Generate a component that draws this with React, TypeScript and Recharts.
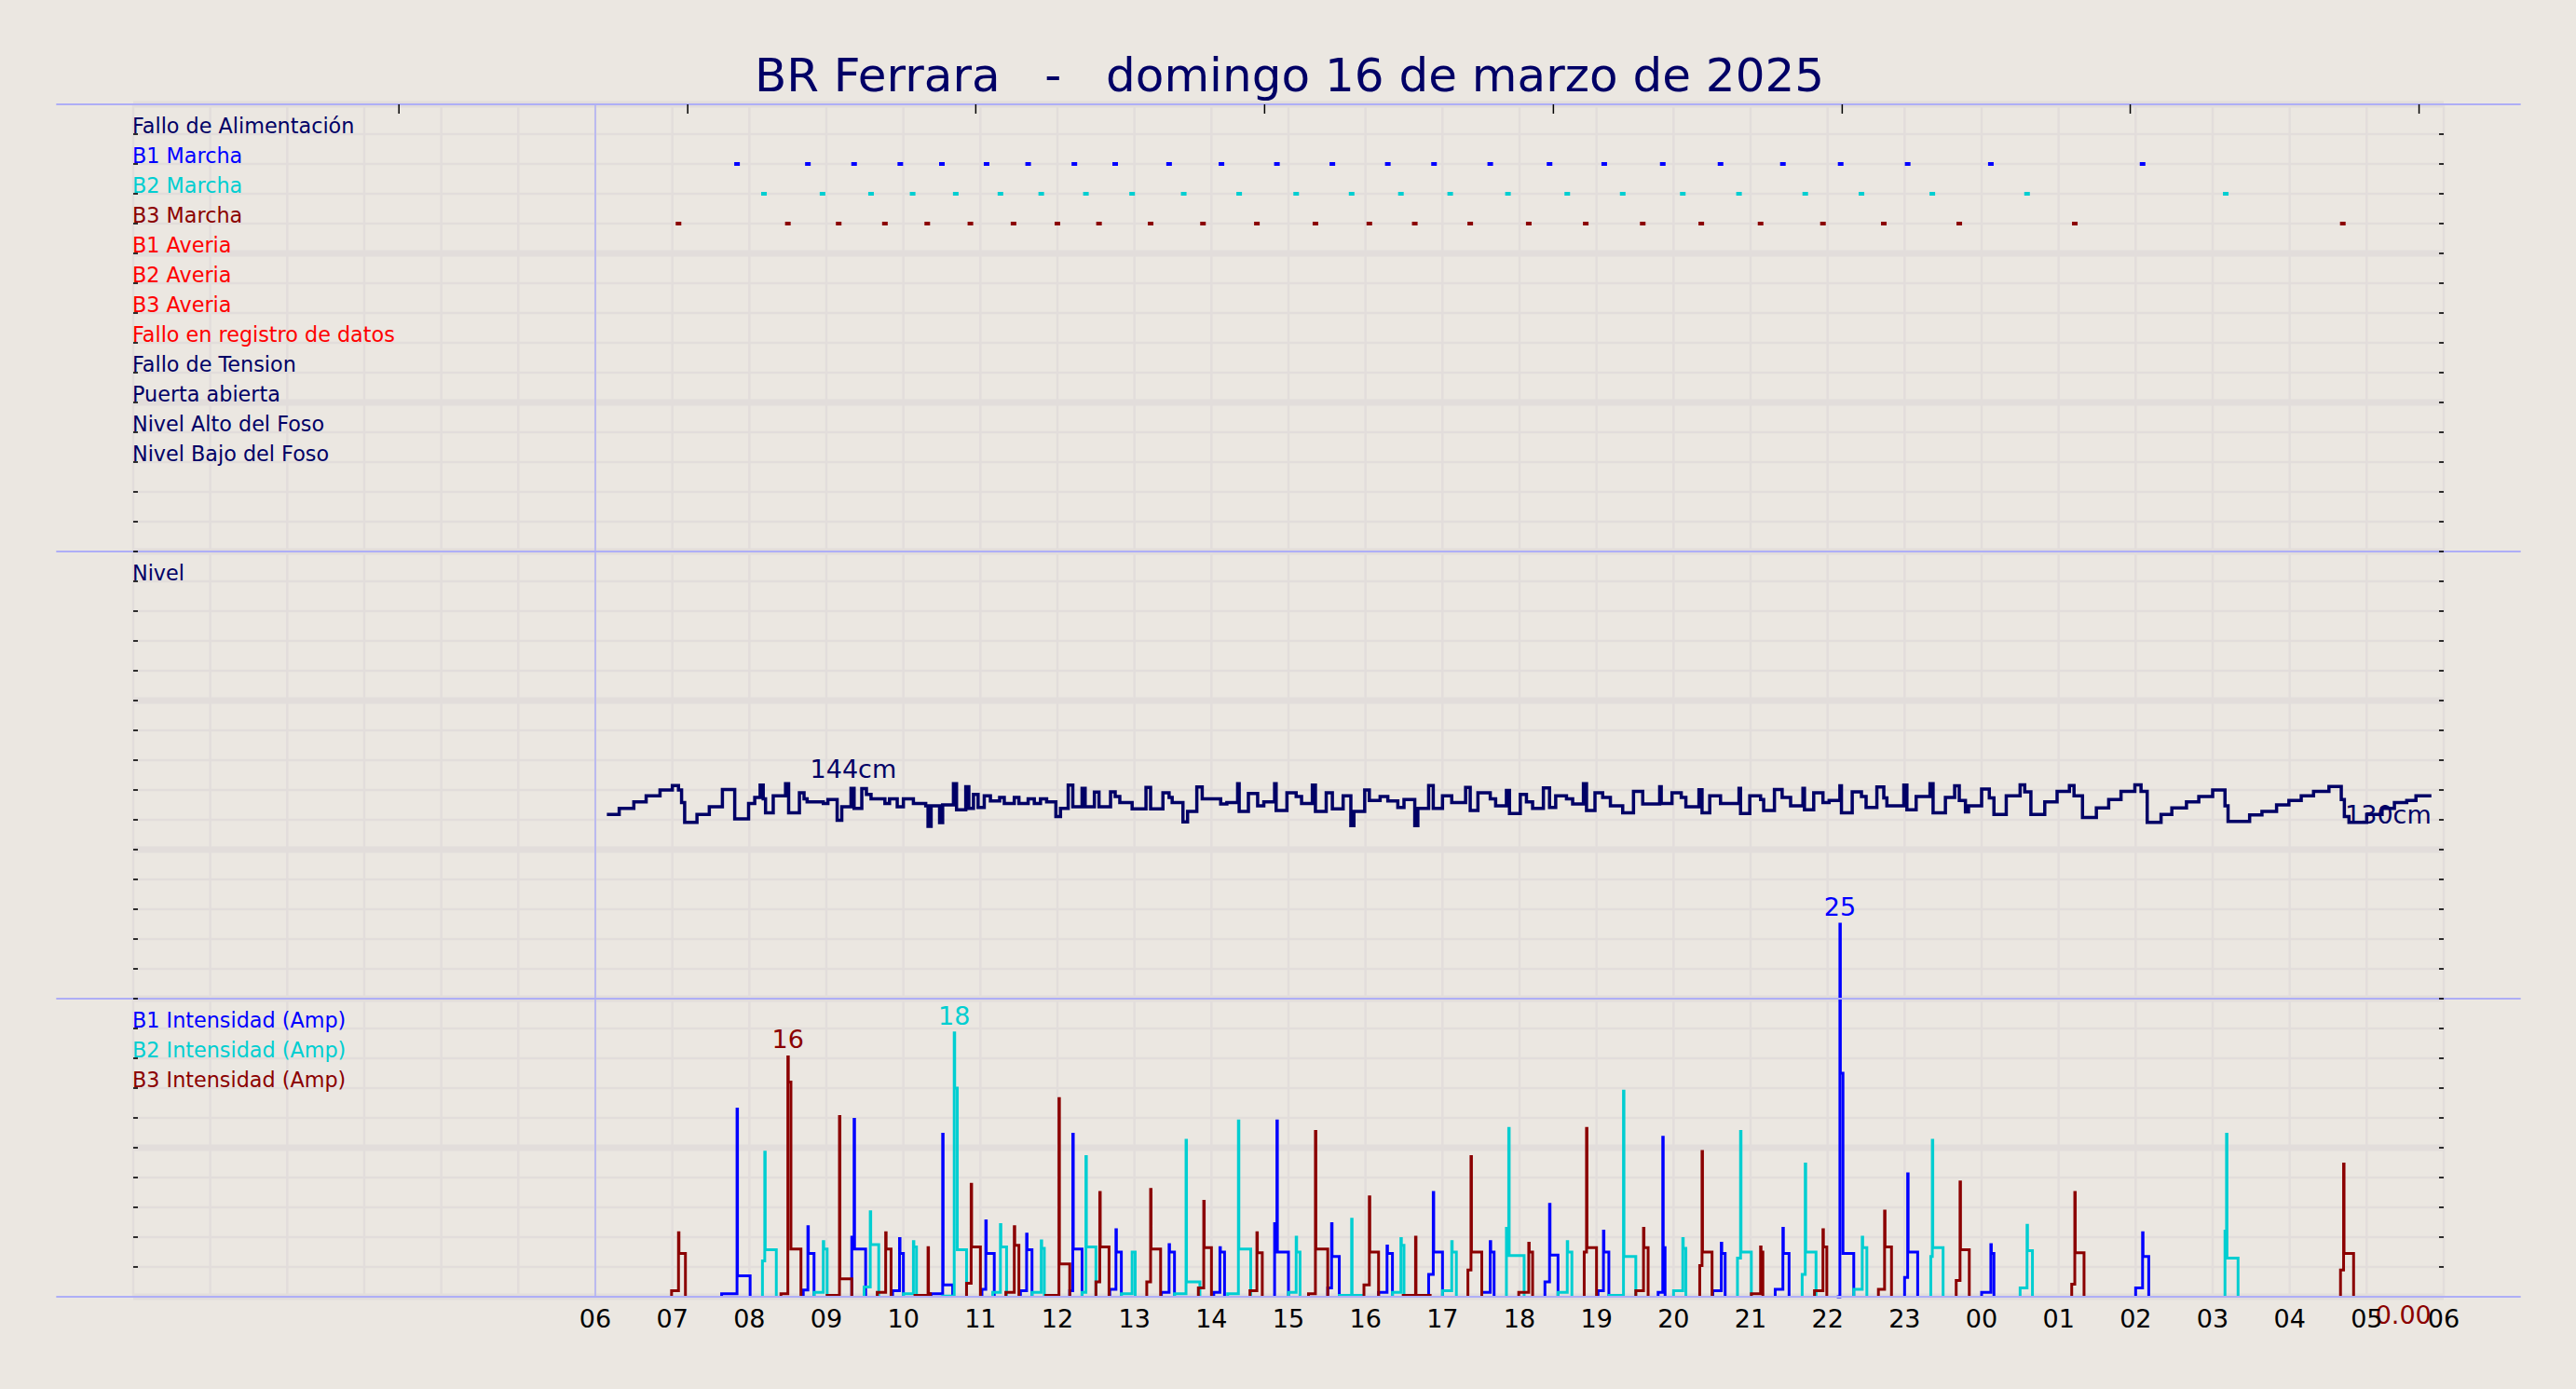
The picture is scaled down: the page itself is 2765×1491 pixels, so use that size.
import React from 'react';
import { ComposedChart, Line, Scatter, XAxis, YAxis, CartesianGrid, ReferenceLine } from 'recharts';

// ---------- texts ----------
const TITLE = 'BR Ferrara   -   domingo 16 de marzo de 2025';
const EVENT_LABELS = [
  'Fallo de Alimentación', 'B1 Marcha', 'B2 Marcha', 'B3 Marcha', 'B1 Averia', 'B2 Averia',
  'B3 Averia', 'Fallo en registro de datos', 'Fallo de Tension', 'Puerta abierta',
  'Nivel Alto del Foso', 'Nivel Bajo del Foso',
];
const LEVEL_LABEL = 'Nivel';
const CURRENT_LABELS = ['B1 Intensidad (Amp)', 'B2 Intensidad (Amp)', 'B3 Intensidad (Amp)'];

// ---------- axes (hours since 00:00 of the day) ----------
const X_TICKS = [6, 7, 8, 9, 10, 11, 12, 13, 14, 15, 16, 17, 18, 19, 20, 21, 22, 23, 24, 25, 26, 27, 28, 29, 30];
const TOP_TICKS = [3.45, 7.2, 10.94, 14.69, 18.44, 22.19, 25.93, 29.68];

// ---------- pump start markers (hours) ----------
const B1_MARCHA = [7.84, 8.76, 9.36, 9.96, 10.5, 11.08, 11.62, 12.22, 12.75, 13.45, 14.13, 14.85, 15.57, 16.29, 16.89, 17.62, 18.39, 19.1, 19.86, 20.61, 21.42, 22.17, 23.04, 24.12, 26.09];
const B2_MARCHA = [8.19, 8.95, 9.58, 10.12, 10.68, 11.26, 11.79, 12.37, 12.97, 13.64, 14.36, 15.1, 15.82, 16.46, 17.1, 17.85, 18.62, 19.34, 20.12, 20.85, 21.71, 22.44, 23.36, 24.59, 27.17];
const B3_MARCHA = [7.08, 8.5, 9.16, 9.76, 10.31, 10.87, 11.43, 12.0, 12.54, 13.21, 13.89, 14.59, 15.35, 16.05, 16.64, 17.36, 18.12, 18.86, 19.6, 20.36, 21.13, 21.94, 22.73, 23.71, 25.21, 28.69];

// ---------- level (hour, cm) ----------
const LEVEL: [number, number][] = [
  [6.15, 133.9], [6.31, 135.9], [6.5, 138.0], [6.66, 140.0], [6.84, 141.9], [7.0, 143.4], [7.08, 141.9], [7.12, 137.8], [7.16, 131.3], [7.32, 133.9],
  [7.48, 136.4], [7.65, 142.1], [7.81, 132.4], [7.99, 137.5], [8.07, 139.5], [8.14, 143.5], [8.18, 139.0], [8.21, 134.4], [8.31, 140.0], [8.47, 144.0],
  [8.51, 134.4], [8.65, 141.0], [8.71, 139.0], [8.75, 138.0], [8.96, 137.5], [9.02, 138.8], [9.14, 132.0], [9.2, 136.4], [9.32, 142.5], [9.36, 135.9],
  [9.46, 142.4], [9.52, 140.5], [9.58, 139.0], [9.76, 137.5], [9.82, 139.0], [9.92, 136.4], [10.0, 139.0], [10.13, 137.5], [10.29, 136.7], [10.32, 130.0],
  [10.36, 136.7], [10.47, 131.2], [10.51, 137.0], [10.65, 144.0], [10.69, 135.4], [10.81, 143.0], [10.85, 135.9], [10.91, 140.5], [10.97, 136.2], [11.05, 140.0],
  [11.13, 138.3], [11.25, 139.5], [11.31, 137.5], [11.44, 139.5], [11.5, 137.5], [11.62, 139.0], [11.7, 137.5], [11.78, 139.0], [11.86, 138.0], [11.98, 133.2],
  [12.04, 135.9], [12.14, 143.5], [12.2, 136.4], [12.32, 142.5], [12.36, 136.4], [12.48, 141.2], [12.54, 136.4], [12.69, 141.3], [12.75, 139.8], [12.81, 137.8],
  [12.97, 135.7], [13.15, 142.8], [13.21, 135.7], [13.37, 141.0], [13.45, 139.5], [13.49, 137.8], [13.63, 131.4], [13.69, 134.9], [13.81, 142.9], [13.88, 139.0],
  [14.12, 137.3], [14.2, 137.8], [14.34, 144.0], [14.36, 134.9], [14.48, 140.8], [14.6, 136.7], [14.68, 138.0], [14.82, 144.0], [14.84, 135.2], [14.98, 141.0],
  [15.1, 139.8], [15.17, 137.5], [15.31, 143.5], [15.35, 134.9], [15.49, 141.0], [15.57, 135.7], [15.71, 140.0], [15.81, 130.2], [15.85, 134.9], [15.99, 141.9],
  [16.05, 138.5], [16.19, 139.8], [16.29, 138.3], [16.42, 136.2], [16.5, 138.8], [16.64, 130.2], [16.68, 135.9], [16.82, 143.4], [16.88, 135.9], [17.0, 140.0],
  [17.12, 137.8], [17.3, 142.8], [17.36, 135.2], [17.46, 141.0], [17.62, 139.0], [17.69, 136.7], [17.83, 141.8], [17.87, 134.2], [18.01, 140.5], [18.09, 138.0],
  [18.17, 135.9], [18.31, 142.6], [18.39, 136.2], [18.47, 140.0], [18.61, 139.0], [18.69, 137.3], [18.83, 144.0], [18.87, 135.2], [18.98, 141.0], [19.08, 139.5],
  [19.18, 136.7], [19.34, 134.4], [19.48, 141.5], [19.6, 137.3], [19.82, 143.0], [19.84, 137.5], [19.98, 141.0], [20.1, 139.5], [20.16, 136.4], [20.33, 142.0],
  [20.37, 134.4], [20.47, 140.0], [20.61, 137.5], [20.85, 142.5], [20.87, 134.2], [20.99, 140.0], [21.13, 138.8], [21.17, 135.2], [21.31, 142.1], [21.41, 139.5],
  [21.52, 136.7], [21.68, 142.5], [21.7, 135.4], [21.82, 141.0], [21.94, 137.8], [22.02, 138.5], [22.16, 143.3], [22.18, 134.4], [22.32, 141.3], [22.44, 139.8],
  [22.5, 136.2], [22.64, 142.9], [22.73, 139.3], [22.77, 136.7], [22.99, 143.5], [23.03, 135.4], [23.15, 139.8], [23.33, 144.0], [23.37, 134.4], [23.53, 139.5],
  [23.65, 143.3], [23.71, 138.5], [23.79, 134.7], [23.83, 136.7], [24.0, 142.2], [24.1, 139.3], [24.16, 133.9], [24.32, 140.0], [24.5, 143.6], [24.56, 141.3],
  [24.64, 133.9], [24.82, 138.0], [24.98, 141.5], [25.14, 143.4], [25.2, 140.0], [25.31, 132.9], [25.49, 136.0], [25.65, 138.8], [25.81, 141.5], [25.99, 143.6],
  [26.07, 141.5], [26.15, 131.3], [26.33, 133.9], [26.47, 136.0], [26.66, 138.0], [26.82, 139.8], [27.0, 141.9], [27.16, 136.7], [27.2, 131.6], [27.48, 133.7],
  [27.64, 134.9], [27.83, 137.0], [27.99, 138.5], [28.15, 140.0], [28.31, 141.5], [28.51, 143.1], [28.67, 138.8], [28.71, 133.2], [28.77, 131.3], [29.0, 133.9],
  [29.2, 135.9], [29.36, 137.8], [29.52, 138.5], [29.64, 140.0], [29.84, 140.0],
];
const LEVEL_MAX_NOTE = [{ h: 9.35, y: 144 }];
const LEVEL_END_NOTE = [{ h: 29.84, y: 130 }];
const B3_END_NOTE = [{ h: 29.84, y: 0 }];

// ---------- pump currents: [pre-start h, pre A, spike h, peak A, 2nd step A, plateau A, end h] ----------
type Run = [number, number, number, number, number, number, number];
const B1_RUNS: Run[] = [
  [7.64, 0.2, 7.84, 12.6, 0, 1.4, 8.01], [8.7, 0.45, 8.76, 4.7, 0, 2.9, 8.84], [9.33, 4.0, 9.36, 11.9, 0, 3.2, 9.51],
  [9.86, 0.4, 9.95, 3.9, 0, 2.9, 10.0], [10.36, 0.2, 10.51, 10.9, 0, 0.8, 10.64], [11.02, 0.5, 11.07, 5.1, 0, 2.9, 11.18],
  [11.52, 0.4, 11.6, 4.2, 0, 3.15, 11.67], [12.16, 0.4, 12.2, 10.9, 0, 3.2, 12.32], [12.68, 0.5, 12.76, 4.5, 0, 3.0, 12.83],
  [13.35, 0.3, 13.45, 3.5, 0, 3.0, 13.52], [14.03, 0.3, 14.11, 3.3, 0, 3.0, 14.17], [14.82, 4.9, 14.85, 11.8, 0, 3.0, 15.0],
  [15.51, 0.6, 15.56, 4.9, 0, 2.7, 15.66], [16.17, 0.3, 16.28, 3.4, 0, 2.9, 16.35], [16.82, 1.5, 16.88, 7.0, 0, 3.0, 17.0],
  [17.51, 0.3, 17.62, 3.7, 0, 3.0, 17.67], [18.33, 1.0, 18.39, 6.2, 0, 2.8, 18.5], [19.02, 0.4, 19.09, 4.4, 0, 3.0, 19.16],
  [19.8, 0.3, 19.86, 10.7, 0, 3.3, 19.89], [20.51, 0.4, 20.62, 3.6, 0, 2.9, 20.67], [21.32, 0.5, 21.42, 4.6, 0, 2.9, 21.5],
  [22.12, 0, 22.16, 25, 15, 2.9, 22.34], [23.0, 1.3, 23.04, 8.25, 0, 3.0, 23.17], [24.0, 0.3, 24.12, 3.5, 0, 2.9, 24.16],
  [26.0, 0.6, 26.09, 4.3, 0, 2.7, 26.17],
];
const B2_RUNS: Run[] = [
  [8.17, 2.4, 8.2, 9.7, 0, 3.15, 8.35], [8.84, 0.3, 8.96, 3.7, 0, 3.2, 9.01], [9.49, 0.65, 9.57, 5.7, 0, 3.5, 9.68],
  [10.0, 0.2, 10.13, 3.7, 0, 3.35, 10.17], [10.51, 0.05, 10.66, 17.7, 14.0, 3.15, 10.82], [11.16, 0.3, 11.26, 4.85, 0, 3.35, 11.34],
  [11.67, 0.3, 11.79, 3.75, 0, 3.25, 11.83], [12.32, 0.3, 12.37, 9.4, 0, 3.35, 12.5], [12.83, 0.2, 12.97, 3.0, 0, 3.0, 13.01],
  [13.52, 0.2, 13.67, 10.5, 0, 1.0, 13.85], [14.21, 0.2, 14.35, 11.8, 0, 3.2, 14.51], [15.0, 0.3, 15.1, 4.0, 0, 3.0, 15.15],
  [15.66, 0.1, 15.82, 5.2, 0, 0.1, 15.95], [16.35, 0.3, 16.46, 3.9, 0, 3.45, 16.5], [17.0, 0.4, 17.12, 3.7, 0, 3.0, 17.18],
  [17.83, 4.6, 17.86, 11.3, 0, 2.77, 18.06], [18.5, 0.3, 18.62, 3.7, 0, 3.0, 18.68], [19.16, 0.1, 19.35, 13.8, 0, 2.7, 19.51],
  [20.0, 0.4, 20.12, 3.9, 0, 3.25, 20.16], [20.83, 2.6, 20.87, 11.1, 0, 3.0, 21.01], [21.67, 1.5, 21.71, 8.9, 0, 3.0, 21.85],
  [22.34, 0.5, 22.45, 4.0, 0, 3.3, 22.51], [23.34, 2.7, 23.36, 10.5, 0, 3.3, 23.5], [24.5, 0.6, 24.59, 4.8, 0, 3.1, 24.66],
  [27.16, 4.4, 27.18, 10.9, 0, 2.6, 27.33],
];
const B3_RUNS: Run[] = [
  [6.99, 0.4, 7.08, 4.3, 0, 2.9, 7.17], [8.41, 0.2, 8.5, 16.1, 14.4, 3.2, 8.67], [9.01, 0.1, 9.17, 12.1, 0, 1.2, 9.33],
  [9.66, 0.3, 9.77, 4.3, 0, 3.2, 9.84], [10.15, 0.1, 10.32, 3.3, 0, 0.2, 10.35], [10.82, 0.9, 10.88, 7.55, 0, 3.35, 11.0],
  [11.33, 0.3, 11.44, 4.7, 0, 3.45, 11.5], [11.85, 0.1, 12.02, 13.3, 0, 2.2, 12.16], [12.5, 1.0, 12.55, 7.0, 0, 3.35, 12.67],
  [13.16, 1.0, 13.21, 7.2, 0, 3.2, 13.34], [13.83, 0.6, 13.9, 6.4, 0, 3.3, 14.0], [14.5, 0.4, 14.59, 4.3, 0, 2.95, 14.66],
  [15.26, 0.2, 15.35, 11.1, 0, 3.2, 15.51], [15.98, 0.8, 16.05, 6.7, 0, 3.0, 16.17], [16.49, 0.1, 16.65, 4.0, 0, 0.1, 16.84],
  [17.33, 1.8, 17.37, 9.4, 0, 3.0, 17.51], [17.99, 0.3, 18.12, 3.6, 0, 3.0, 18.17], [18.84, 3.0, 18.87, 11.3, 0, 3.3, 19.0],
  [19.51, 0.4, 19.61, 4.6, 0, 3.3, 19.67], [20.34, 2.1, 20.37, 9.75, 0, 3.0, 20.5], [21.01, 0.2, 21.13, 3.35, 0, 3.0, 21.16],
  [21.83, 0.4, 21.94, 4.5, 0, 3.35, 21.99], [22.66, 0.5, 22.74, 5.75, 0, 3.35, 22.83], [23.67, 1.1, 23.72, 7.7, 0, 3.15, 23.84],
  [25.17, 0.85, 25.21, 7.0, 0, 2.95, 25.33], [28.66, 1.8, 28.7, 8.9, 0, 2.9, 28.83],
];

// ---------- layout & style ----------
const W = 2765, H = 1491;
const PLOT_L = 143, PLOT_R = 2623, PLOT_T = 112, PLOT_B = 1392;
const HOURS = 30, ROWS = 40;
const HOUR_PX = (PLOT_R - PLOT_L) / HOURS;
const ROW_PX = (PLOT_B - PLOT_T) / ROWS;
const XAXIS_H = 40;
const AMP_DOMAIN: [number, number] = [0, 80];
const LVL_DOMAIN: [number, number] = [-24.8, 367.5];

const BG = '#ebe7e1';
const GRID = '#e2dddb';
const FRAME = '#aeaef6';
const NAVY = '#000066';
const C_B1 = '#0000ff';
const C_B2 = '#00ced1';
const C_B3 = '#8b0000';
const RED = '#ff0000';
const EVENT_COLORS = [NAVY, C_B1, C_B2, C_B3, RED, RED, RED, RED, NAVY, NAVY, NAVY, NAVY];
const CURRENT_COLORS = [C_B1, C_B2, C_B3];
const FONT = '"DejaVu Sans", Verdana, sans-serif';
const TICK_LEN = 5;

const GRID_ALL = Array.from({ length: ROWS + 1 }, (_, k) => PLOT_T + k * ROW_PX);
const GRID_MAJOR = GRID_ALL.filter((_, k) => k % 5 === 0);
const GRID_V = Array.from({ length: HOURS + 1 }, (_, h) => PLOT_L + h * HOUR_PX);
const TICK_ROWS = Array.from({ length: ROWS - 1 }, (_, k) => k + 1);
const FRAME_ROWS = [40, 25, 10, 0];
const ROW_B1 = 38, ROW_B2 = 37, ROW_B3 = 36;

// ---------- data building ----------
function runsToSeries(runs: Run[]) {
  const pts: { h: number; y: number | null }[] = [];
  runs.forEach(([tPre, pre, tS, peak, step2, plat, tEnd]) => {
    pts.push({ h: tPre, y: 0 }, { h: tPre, y: pre }, { h: tS, y: peak });
    if (step2 > 0) pts.push({ h: tS + 0.006, y: step2 }, { h: tS + 0.04, y: plat });
    else pts.push({ h: tS + 0.006, y: plat });
    pts.push({ h: tEnd, y: 0 }, { h: tEnd, y: null });
  });
  return pts;
}
function peakOf(runs: Run[]) {
  let best = runs[0];
  runs.forEach((r) => { if (r[3] > best[3]) best = r; });
  return [{ h: best[2], y: best[3], label: String(Math.round(best[3])) }];
}
const levelData = LEVEL.map(([h, y]) => ({ h, y }));
const b1Data = runsToSeries(B1_RUNS);
const b2Data = runsToSeries(B2_RUNS);
const b3Data = runsToSeries(B3_RUNS);
const marcha = (hs: number[], row: number) => hs.map((h) => ({ h, y: row }));

const rowLabel = (v: number): { text: string; color: string } | null => {
  const e = 39 - v;
  if (e >= 0 && e < EVENT_LABELS.length) return { text: EVENT_LABELS[e], color: EVENT_COLORS[e] };
  if (v === 24) return { text: LEVEL_LABEL, color: NAVY };
  const c = 9 - v;
  if (c >= 0 && c < CURRENT_LABELS.length) return { text: CURRENT_LABELS[c], color: CURRENT_COLORS[c] };
  return null;
};

const EmptyTick = () => <g />;
const LeftTick = (p: any) => {
  const lab = rowLabel(p.payload.value);
  if (!lab) return <g />;
  return (
    <text x={PLOT_L - 1} y={p.y - 1.5} fill={lab.color} fontSize={22.3} fontFamily={FONT}>{lab.text}</text>
  );
};
const BottomTick = (p: any) => {
  const h = p.payload.value as number;
  const txt = String(h % 24).padStart(2, '0');
  return (
    <text x={p.x} y={p.y + 33} textAnchor="middle" fill="#000" fontSize={27} fontFamily={FONT}>{txt}</text>
  );
};
const markShape = (color: string) => (p: any) => (
  <rect x={p.cx - 3} y={p.cy - 2} width={6} height={4} fill={color} />
);
const textShape = (color: string, anchor: 'start' | 'middle' | 'end', dy: number, fmt: (v: number, lab?: string) => string) => (p: any) => (
  <text x={p.cx} y={p.cy + dy} textAnchor={anchor} fill={color} fontSize={27} fontFamily={FONT}>
    {fmt(p.payload.y, p.payload.label)}
  </text>
);

export default function App() {
  return (
    <div style={{ position: 'absolute', left: 0, top: 0, width: W, height: H, background: BG, overflow: 'hidden' }}>
      <div style={{ position: 'absolute', left: 0, top: 0 }}>
        <ComposedChart width={W} height={H} margin={{ top: PLOT_T, right: W - PLOT_R, bottom: H - PLOT_B - XAXIS_H, left: PLOT_L }}>
          <CartesianGrid horizontalPoints={GRID_ALL} verticalPoints={GRID_V} stroke={GRID} strokeWidth={2.5} />
          <CartesianGrid horizontalPoints={GRID_MAJOR} vertical={false} stroke={GRID} strokeWidth={7} />

          <XAxis type="number" dataKey="h" domain={[0, HOURS]} ticks={X_TICKS} interval={0}
            height={XAXIS_H} axisLine={false} tickLine={false} tickSize={0} tickMargin={0} tick={BottomTick} />
          <XAxis xAxisId="top" orientation="top" mirror type="number" dataKey="h" domain={[0, HOURS]} ticks={TOP_TICKS}
            allowDataOverflow interval={0} height={1} axisLine={false} tickSize={10}
            tickLine={{ stroke: '#000', strokeWidth: 1.5 }} tick={EmptyTick} />

          <YAxis yAxisId="ev" dataKey="y" type="number" domain={[0, ROWS]} ticks={TICK_ROWS} interval={0}
            mirror width={1} axisLine={false} tickSize={TICK_LEN} tickMargin={0}
            tickLine={{ stroke: '#000', strokeWidth: 1.6 }} tick={LeftTick} />
          <YAxis yAxisId="evR" orientation="right" dataKey="y" type="number" domain={[0, ROWS]} ticks={TICK_ROWS}
            allowDataOverflow interval={0} mirror width={1} axisLine={false} tickSize={TICK_LEN} tickMargin={0}
            tickLine={{ stroke: '#000', strokeWidth: 1.6 }} tick={EmptyTick} />
          <YAxis yAxisId="lvl" dataKey="y" type="number" domain={LVL_DOMAIN} hide width={1} />
          <YAxis yAxisId="amp" dataKey="y" type="number" domain={AMP_DOMAIN} hide width={1} />

          <Line yAxisId="lvl" data={levelData} dataKey="y" type="stepAfter" stroke={NAVY} strokeWidth={3.5}
            dot={false} activeDot={false} isAnimationActive={false} />

          <Line yAxisId="amp" data={b1Data} dataKey="y" type="stepAfter" stroke={C_B1} strokeWidth={3}
            dot={false} activeDot={false} isAnimationActive={false} connectNulls={false} />
          <Line yAxisId="amp" data={b2Data} dataKey="y" type="stepAfter" stroke={C_B2} strokeWidth={3}
            dot={false} activeDot={false} isAnimationActive={false} connectNulls={false} />
          <Line yAxisId="amp" data={b3Data} dataKey="y" type="stepAfter" stroke={C_B3} strokeWidth={3}
            dot={false} activeDot={false} isAnimationActive={false} connectNulls={false} />

          <Scatter yAxisId="ev" data={marcha(B1_MARCHA, ROW_B1)} shape={markShape(C_B1)} isAnimationActive={false} />
          <Scatter yAxisId="ev" data={marcha(B2_MARCHA, ROW_B2)} shape={markShape(C_B2)} isAnimationActive={false} />
          <Scatter yAxisId="ev" data={marcha(B3_MARCHA, ROW_B3)} shape={markShape(C_B3)} isAnimationActive={false} />

          <Scatter yAxisId="amp" data={peakOf(B1_RUNS)} shape={textShape(C_B1, 'middle', -9, (v, l) => l || '')} isAnimationActive={false} />
          <Scatter yAxisId="amp" data={peakOf(B2_RUNS)} shape={textShape(C_B2, 'middle', -9, (v, l) => l || '')} isAnimationActive={false} />
          <Scatter yAxisId="amp" data={peakOf(B3_RUNS)} shape={textShape(C_B3, 'middle', -9, (v, l) => l || '')} isAnimationActive={false} />
          <Scatter yAxisId="amp" data={B3_END_NOTE} shape={textShape(C_B3, 'end', 29, (v) => v.toFixed(2))} isAnimationActive={false} />
          <Scatter yAxisId="lvl" data={LEVEL_MAX_NOTE} shape={textShape(NAVY, 'middle', -6, (v) => `${Math.round(v)}cm`)} isAnimationActive={false} />
          <Scatter yAxisId="lvl" data={LEVEL_END_NOTE} shape={textShape(NAVY, 'end', -3, (v) => `${Math.round(v)}cm`)} isAnimationActive={false} />

          {FRAME_ROWS.map((r) => (
            <ReferenceLine key={`f${r}`} yAxisId="ev" segment={[{ x: -1, y: r }, { x: HOURS + 1, y: r }]}
              stroke={FRAME} strokeWidth={2} ifOverflow="visible" />
          ))}
          <ReferenceLine yAxisId="ev" x={6} stroke={FRAME} strokeWidth={1.5} />
        </ComposedChart>
      </div>
      <svg width={W} height={130} style={{ position: 'absolute', left: 0, top: 0 }}>
        <text x={1384} y={97.5} textAnchor="middle" fill={NAVY} fontSize={50} fontFamily={FONT} style={{ whiteSpace: 'pre' }}>
          {TITLE}
        </text>
      </svg>
    </div>
  );
}
